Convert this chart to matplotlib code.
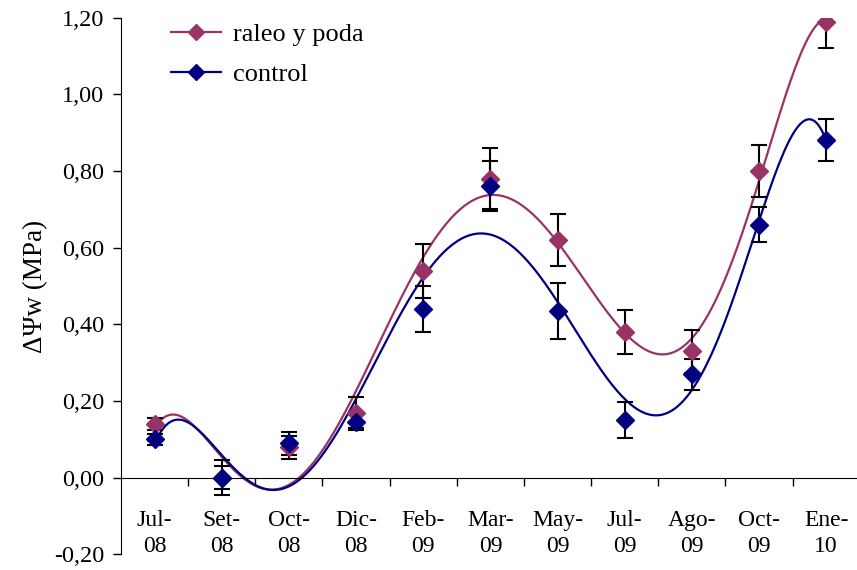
import numpy as np
import matplotlib.pyplot as plt

plt.rcParams['font.family'] = ['Liberation Serif', 'DejaVu Serif']

# sampling dates
meses = ["Jul-\n08", "Set-\n08", "Oct-\n08", "Dic-\n08", "Feb-\n09", "Mar-\n09",
         "May-\n09", "Jul-\n09", "Ago-\n09", "Oct-\n09", "Ene-\n10"]

# water potential difference (MPa) and standard errors
raleo = [0.14, 0.00, 0.08, 0.17, 0.54, 0.78, 0.62, 0.38, 0.33, 0.80, 1.19]
raleo_err = [0.015, 0.045, 0.03, 0.04, 0.07, 0.08, 0.068, 0.057, 0.056, 0.067, 0.07]
control = [0.10, 0.00, 0.09, 0.145, 0.44, 0.76, 0.435, 0.15, 0.27, 0.66, 0.88]
control_err = [0.015, 0.03, 0.03, 0.02, 0.06, 0.065, 0.073, 0.047, 0.04, 0.045, 0.055]

col_raleo = "#993366"
col_control = "#000080"

fig = plt.figure(figsize=(8.57, 5.70), dpi=100)
ax = fig.add_axes([0.1412, 0.0274, 0.862, 0.9416])

x = np.arange(len(meses))
xs = np.linspace(0, len(meses) - 1, 300)

for vals, errs, col, name in [(raleo, raleo_err, col_raleo, "raleo y poda"),
                              (control, control_err, col_control, "control")]:
    # 6th order polynomial trend line through the means
    coef = np.polyfit(x, vals, 6)
    ax.plot(xs, np.polyval(coef, xs), color=col, lw=1.6, zorder=2)
    ax.errorbar(x, vals, yerr=errs, fmt="none", ecolor="black", elinewidth=1.5,
                capsize=6, capthick=1.5, zorder=3)
    ax.plot(x, vals, ls="none", marker="D", ms=9.5, color=col, zorder=4)
    ax.plot([], [], color=col, lw=1.6, marker="D", ms=8, label=name)

ax.set_xlim(-0.5, len(meses) - 0.5)
ax.set_ylim(-0.2, 1.2)
ax.set_yticks(np.arange(-0.2, 1.21, 0.2))
ax.set_yticklabels([f"{v:.2f}".replace(".", ",") for v in np.arange(-0.2, 1.21, 0.2)],
                   fontsize=17.5)
ax.tick_params(axis="y", direction="out", length=6, width=1, pad=6)

# category axis crosses at zero, ticks between categories
ax.spines["bottom"].set_position(("data", 0))
ax.spines["top"].set_visible(False)
ax.spines["right"].set_visible(False)
ax.set_xticks(np.arange(0.5, len(meses) - 0.5, 1))
ax.set_xticklabels([])
ax.tick_params(axis="x", direction="out", length=6, width=1)
for i, m in enumerate(meses):
    ax.text(i, -0.145, m, ha="center", va="center", fontsize=17, linespacing=1.3)

ax.set_ylabel("ΔΨw (MPa)", fontsize=19.5, labelpad=4)

ax.legend(loc="upper left", bbox_to_anchor=(0.035, 1.035), frameon=False, fontsize=19,
          handlelength=1.9, handletextpad=0.45, labelspacing=0.62)

fig.savefig("out.png", dpi=100)
